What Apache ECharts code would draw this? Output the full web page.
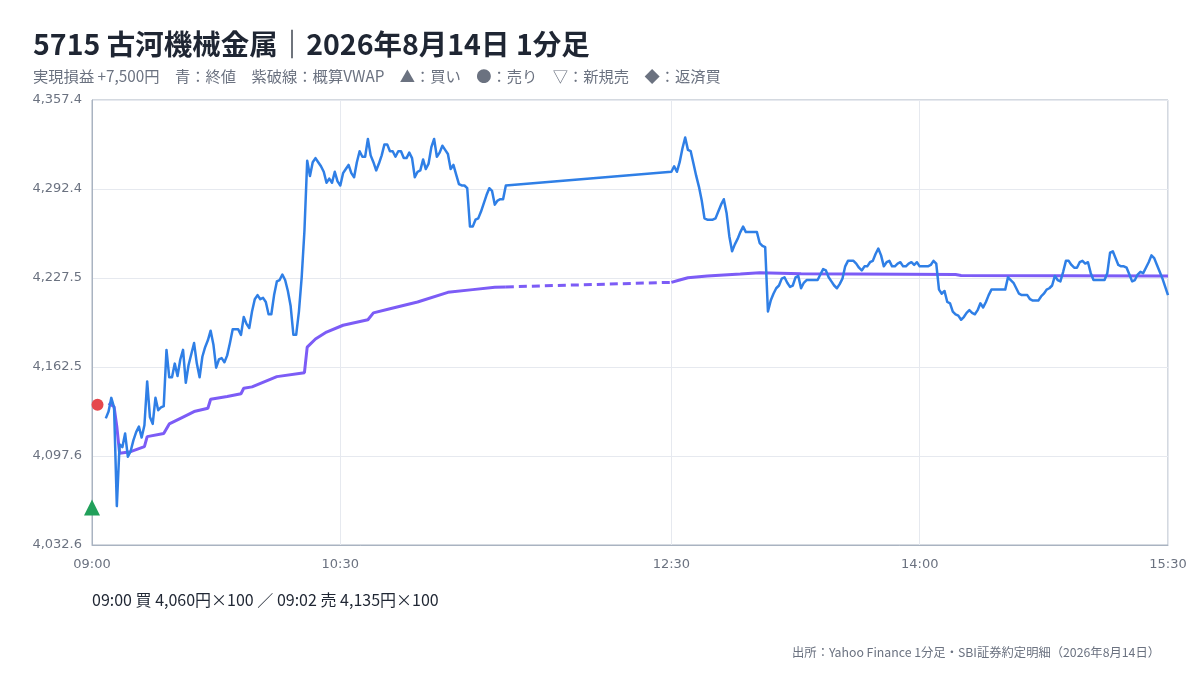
<!DOCTYPE html>
<html lang="ja">
<head>
<meta charset="utf-8">
<script src="https://cdn.jsdelivr.net/npm/echarts@6/dist/echarts.min.js"></script>
<style>
html, body { margin: 0; padding: 0; background: #fff; }
#chart { width: 1200px; height: 680px; }
</style>
</head>
<body>
<div id="chart"></div>
<script>
// 1分足 終値（前場 09:05〜11:30、後場 12:30〜15:30）
const amStart = '09:05'
const amClose = [
  4125, 4130, 4140, 4133, 4061, 4106, 4104, 4114, 4097, 4101,
  4109, 4115, 4119, 4111, 4120, 4152, 4126, 4121, 4140, 4131,
  4133, 4134, 4175, 4155, 4155, 4165, 4156, 4168, 4175, 4151,
  4164, 4172, 4180, 4165, 4155, 4170, 4177, 4182, 4189, 4179,
  4162, 4168, 4169, 4166, 4171, 4180, 4190, 4190, 4190, 4186,
  4199, 4194, 4191, 4203, 4212, 4215, 4212, 4213, 4210, 4201,
  4201, 4215, 4225, 4226, 4230, 4226, 4218, 4207, 4186, 4186,
  4203, 4228, 4262, 4313, 4302, 4312, 4315, 4312, 4309, 4305,
  4297, 4300, 4297, 4305, 4298, 4295, 4304, 4307, 4310, 4304,
  4301, 4312, 4320, 4316, 4316, 4329, 4317, 4312, 4306, 4311,
  4317, 4325, 4325, 4320, 4320, 4316, 4320, 4320, 4315, 4315,
  4319, 4315, 4301, 4305, 4306, 4314, 4307, 4311, 4323, 4329,
  4316, 4319, 4324, 4321, 4318, 4307, 4310, 4303, 4296, 4295,
  4295, 4293, 4265, 4265, 4270, 4271, 4276, 4282, 4288, 4293,
  4291, 4281, 4284, 4285, 4285, 4295
]
const pmStart = '12:30'
const pmClose = [
  4305, 4309, 4305, 4312, 4322, 4330, 4321, 4320, 4311, 4302,
  4294, 4284, 4271, 4270, 4270, 4270, 4271, 4276, 4281, 4285,
  4275, 4258, 4247, 4252, 4256, 4261, 4265, 4261, 4261, 4261,
  4261, 4261, 4253, 4251, 4250, 4203, 4211, 4216, 4220, 4222,
  4227, 4228, 4224, 4221, 4222, 4228, 4229, 4220, 4224, 4226,
  4226, 4226, 4226, 4226, 4230, 4234, 4233, 4228, 4225, 4222,
  4220, 4223, 4227, 4236, 4240, 4240, 4240, 4238, 4235, 4233,
  4236, 4236, 4239, 4240, 4245, 4249, 4244, 4236, 4239, 4240,
  4236, 4236, 4238, 4239, 4236, 4236, 4238, 4239, 4237, 4239,
  4236, 4236, 4236, 4236, 4237, 4240, 4238, 4219, 4216, 4218,
  4210, 4209, 4203, 4201, 4200, 4197, 4199, 4202, 4204, 4202,
  4201, 4204, 4209, 4206, 4210, 4215, 4219, 4219, 4219, 4219,
  4219, 4219, 4228, 4226, 4224, 4220, 4216, 4215, 4215, 4215,
  4212, 4211, 4211, 4211, 4214, 4216, 4219, 4220, 4222, 4229,
  4226, 4225, 4232, 4240, 4240, 4237, 4235, 4235, 4239, 4240,
  4238, 4239, 4231, 4226, 4226, 4226, 4226, 4226, 4231, 4246,
  4247, 4242, 4237, 4236, 4236, 4235, 4230, 4225, 4226, 4230,
  4232, 4231, 4235, 4239, 4244, 4242, 4237, 4232, 4227, 4221,
  4215
]

// 概算VWAP
const vwapTimes = [
  '09:06', '09:08', '09:09', '09:10', '09:14', '09:19', '09:20', '09:26', '09:28', '09:33',
  '09:37', '09:42', '09:43', '09:49', '09:54', '09:55', '09:58', '10:07', '10:17', '10:18',
  '10:21', '10:25', '10:31', '10:40', '10:42', '10:48', '10:58', '11:09', '11:18', '11:26',
  '11:30', '12:30', '12:33', '12:36', '12:43', '12:55', '13:02', '13:17', '14:13', '14:15',
  '15:30'
]
const vwapValues = [
  4136, 4133.5, 4119, 4099.5, 4100.7, 4104.4, 4111.7, 4114, 4121, 4126,
  4130, 4132.4, 4139, 4141, 4143, 4147, 4148, 4155.5, 4158.4, 4177,
  4183, 4188, 4193, 4197, 4202, 4205, 4210, 4217, 4219, 4220.7,
  4221, 4224.3, 4226, 4227.7, 4229, 4230.4, 4231.4, 4230.5, 4230, 4229.3,
  4229
]

// 約定
const tradeTimes = ['09:00', '09:02']
const tradeSides = ['買', '売']
const tradePrices = [4060, 4135]
const tradeQty = 100

const xTickLabels = ['09:00', '10:30', '12:30', '14:00', '15:30']
const yMin = 4032.6
const yMax = 4357.4

function toMin(t) {
  const [h, m] = t.split(':').map(Number)
  return h * 60 + m - 540
}
function fmtTime(v) {
  const t = Math.round(v) + 540
  return String(Math.floor(t / 60)).padStart(2, '0') + ':' + String(t % 60).padStart(2, '0')
}

const closeData = amClose.map((v, i) => [toMin(amStart) + i, v])
  .concat(pmClose.map((v, i) => [toMin(pmStart) + i, v]))

const vwapData = vwapTimes.map((t, i) => [toMin(t), vwapValues[i]])
const lunchEnd = toMin('11:30')
const lunchBack = toMin('12:30')
const vwapAM = vwapData.filter(d => d[0] <= lunchEnd)
const vwapPM = vwapData.filter(d => d[0] >= lunchBack)
const vwapGap = [vwapAM[vwapAM.length - 1], vwapPM[0]]

const tradeData = tradeTimes.map((t, i) => ({
  value: [toMin(t), tradePrices[i]],
  symbol: tradeSides[i] === '買' ? 'triangle' : 'circle',
  symbolSize: tradeSides[i] === '買' ? 16 : 12,
  itemStyle: { color: tradeSides[i] === '買' ? '#21a05a' : '#e5484d', opacity: 1 }
}))

const pnl = (tradePrices[1] - tradePrices[0]) * tradeQty
const tradeNote = tradeTimes.map((t, i) =>
  t + ' ' + tradeSides[i] + ' ' + tradePrices[i].toLocaleString('en-US') + '円×' + tradeQty
).join(' ／ ')

const cjk = '"Noto Sans CJK JP", "Noto Sans", sans-serif'
const purple = '#7c5cf6'

const chart = echarts.init(document.getElementById('chart'))
chart.setOption({
  animation: false,
  backgroundColor: '#fff',
  title: [
    {
      text: '5715 古河機械金属｜2026年8月14日 1分足',
      left: 33, top: 30, padding: 0,
      textStyle: { fontFamily: cjk, fontSize: 28.5, fontWeight: 'bold', color: '#1f2633' }
    },
    {
      text: '実現損益 +' + pnl.toLocaleString('en-US') + '円　青：終値　紫破線：概算VWAP　▲：買い　●：売り　▽：新規売　◆：返済買',
      left: 33, top: 69, padding: 0,
      textStyle: { fontFamily: cjk, fontSize: 15.3, fontWeight: 'normal', color: '#6b7280' }
    },
    {
      text: tradeNote,
      left: 92, top: 592, padding: 0,
      textStyle: { fontFamily: cjk, fontSize: 16, fontWeight: 'normal', color: '#1f2633' }
    },
    {
      text: '出所：Yahoo Finance 1分足・SBI証券約定明細（2026年8月14日）',
      right: 40, top: 646, padding: 0,
      textStyle: { fontFamily: cjk, fontSize: 12.3, fontWeight: 'normal', color: '#6b7280' }
    }
  ],
  grid: {
    left: 92, right: 32, top: 100, bottom: 135,
    show: true, borderColor: '#a9b3c1', borderWidth: 1
  },
  xAxis: {
    type: 'value', min: 0, max: 390,
    axisLine: { show: true, lineStyle: { color: '#a9b3c1' } },
    axisTick: { show: false, customValues: xTickLabels.map(toMin) },
    axisLabel: {
      customValues: xTickLabels.map(toMin),
      formatter: v => fmtTime(v),
      color: '#6b7280', fontSize: 13, fontFamily: '"DejaVu Sans", sans-serif', margin: 13
    },
    splitLine: { show: true, lineStyle: { color: '#e6e9ef' } }
  },
  yAxis: {
    type: 'value', min: yMin, max: yMax, interval: (yMax - yMin) / 5,
    axisLine: { show: true, lineStyle: { color: '#a9b3c1' } },
    axisTick: { show: false },
    axisLabel: {
      formatter: v => v.toLocaleString('en-US', { minimumFractionDigits: 1, maximumFractionDigits: 1 }),
      color: '#6b7280', fontSize: 13, fontFamily: '"DejaVu Sans", sans-serif', margin: 10
    },
    splitLine: { show: true, lineStyle: { color: '#e6e9ef' } }
  },
  series: [
    {
      name: '概算VWAP', type: 'line', data: vwapAM, showSymbol: false,
      lineStyle: { color: purple, width: 3 }, z: 2
    },
    {
      name: '概算VWAP', type: 'line', data: vwapGap, showSymbol: false,
      lineStyle: { color: purple, width: 3, type: [8, 5] }, z: 2
    },
    {
      name: '概算VWAP', type: 'line', data: vwapPM, showSymbol: false,
      lineStyle: { color: purple, width: 3 }, z: 2
    },
    {
      name: '終値', type: 'line', data: closeData, showSymbol: false,
      lineStyle: { color: '#2f7fe6', width: 2.5, join: 'round' }, z: 3
    },
    {
      name: '約定', type: 'scatter', data: tradeData, clip: false, z: 5
    }
  ]
})
</script>
</body>
</html>
